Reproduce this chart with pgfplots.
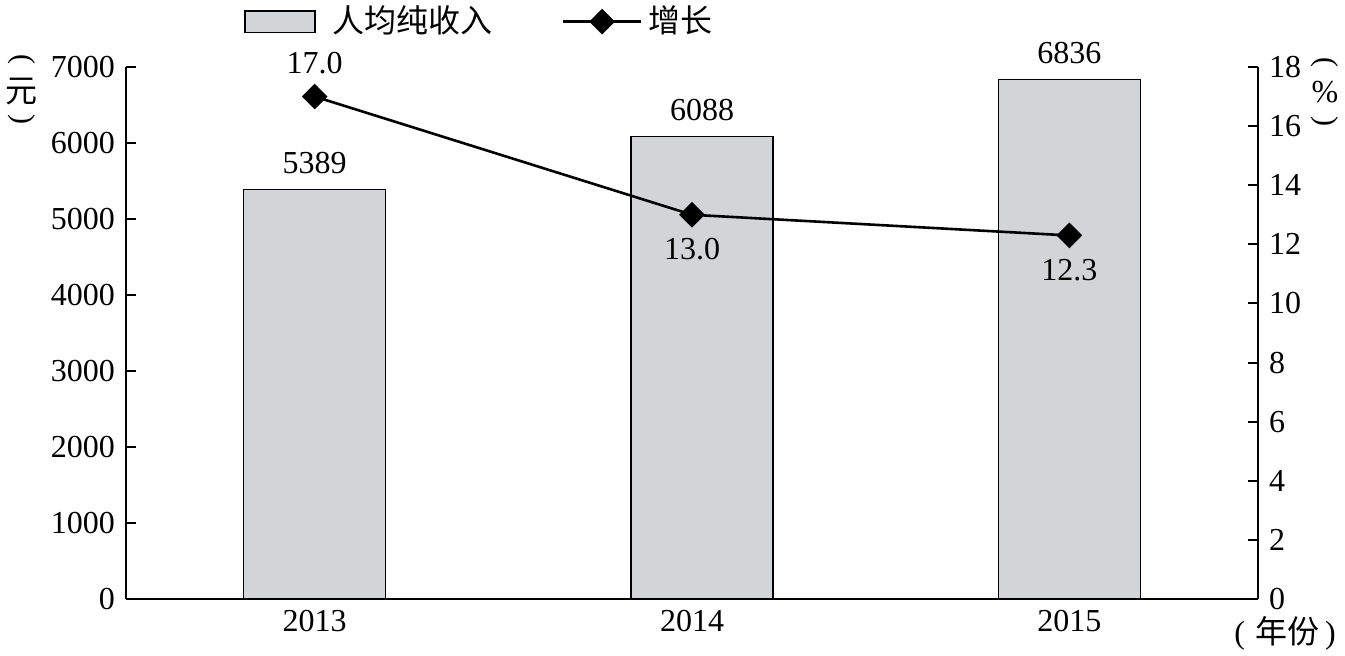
\documentclass[border=0pt]{standalone}
\usepackage{pgfplots}
\pgfplotsset{compat=1.18}
\usepackage{pgfplotstable}
\usepackage{fontspec}
\setmainfont{Liberation Serif}
\newfontfamily\cjk{Noto Sans CJK SC}
\definecolor{bargray}{RGB}{211,212,215}

\pgfplotsset{
  barlegend/.style={legend image code/.code={\draw[##1] (0cm,-0.19cm) rectangle (1.23cm,0.19cm);}},
  linelegend/.style={legend image code/.code={\draw[##1, mark repeat=2, mark phase=2] plot coordinates {(0cm,0cm) (0.68cm,0cm) (1.36cm,0cm)};}},
}

\pgfplotstableread{
x y
0 5389
1.027 6088
2 6836
}\income
\pgfplotstableread{
x y
0 17.0
1 13.0
2 12.3
}\growth
\pgfplotstableread{
x y
0 17.0
}\growthabove
\pgfplotstableread{
x y
1 13.0
2 12.3
}\growthbelow

\begin{document}
\fontsize{16}{19}\selectfont
\begin{tikzpicture}
\begin{axis}[
  name=ax,
  scale only axis, width=566pt, height=266pt,
  xmin=-0.5, xmax=2.5, ymin=0, ymax=7000,
  axis x line*=bottom, axis y line*=left,
  axis line style={line width=1.2pt},
  xtick={0,1,2}, xticklabels={2013,2014,2015},
  major x tick style={draw=none},
  extra x ticks={0.5,1.5}, extra x tick labels={},
  extra x tick style={major tick length=5pt, tick style={line width=1pt, black}, tick align=inside},
  ytick={0,1000,...,7000},
  tick align=inside, major tick length=5pt,
  y tick style={line width=1pt, black},
  /pgf/number format/1000 sep={},
  /pgf/number format/assume math mode=true,
  tick label style={font=\fontsize{16}{19}\selectfont},
  clip=false,
]
\addplot[ybar, bar width=71pt, fill=bargray, draw=black, line width=0.8pt,
  nodes near coords, nodes near coords style={font=\fontsize{16}{19}\selectfont, /pgf/number format/1000 sep={}, /pgf/number format/assume math mode=true, yshift=2pt}]
  table[x=x,y=y]{\income};
% left unit label (元), stacked vertically
\node[font=\fontsize{15}{16}\selectfont, inner sep=0pt] at ([xshift=-52pt,yshift=4pt]rel axis cs:0,1) {\rotatebox{-90}{(}};
\node[font=\cjk\fontsize{16}{17}\selectfont, inner sep=0pt] at ([xshift=-52pt,yshift=-12.5pt]rel axis cs:0,1) {元};
\node[font=\fontsize{15}{16}\selectfont, inner sep=0pt] at ([xshift=-52pt,yshift=-26pt]rel axis cs:0,1) {\rotatebox{-90}{)}};
% right unit label (%)
\node[font=\fontsize{15}{16}\selectfont, inner sep=0pt] at ([xshift=33.5pt,yshift=2.5pt]rel axis cs:1,1) {\rotatebox{-90}{(}};
\node[font=\fontsize{16}{17}\selectfont, inner sep=0pt] at ([xshift=33.5pt,yshift=-12.5pt]rel axis cs:1,1) {\%};
\node[font=\fontsize{15}{16}\selectfont, inner sep=0pt] at ([xshift=33.5pt,yshift=-27pt]rel axis cs:1,1) {\rotatebox{-90}{)}};
\node[font=\fontsize{16}{17}\selectfont, inner sep=0pt] at ([xshift=13.5pt,yshift=-17pt]rel axis cs:1,0) {(\hspace{5pt}{\cjk 年份}\hspace{3pt})};
\end{axis}
\begin{axis}[
  scale only axis, width=566pt, height=266pt,
  xmin=-0.5, xmax=2.5, ymin=0, ymax=18,
  axis x line=none, axis y line*=right,
  axis line style={line width=1.2pt},
  ytick={0,2,...,18},
  tick align=inside, major tick length=5pt,
  y tick style={line width=1pt, black},
  /pgf/number format/assume math mode=true,
  tick label style={font=\fontsize{16}{19}\selectfont},
  legend style={at={(0.099,1.131)}, anchor=north west, draw=none, fill=none,
    legend columns=2, font=\cjk\fontsize{16}{19}\selectfont,
    /tikz/column 1/.style={column sep=6pt},
    /tikz/column 2/.style={column sep=33pt},
    /tikz/column 3/.style={column sep=1pt}},
  clip=false,
]
\addlegendimage{barlegend, fill=bargray, draw=black, line width=0.8pt}
\addlegendentry{人均纯收入}
\addplot[black, line width=1.3pt, mark=square*, mark options={rotate=45}, mark size=3.9pt, linelegend]
  table[x=x,y=y]{\growth};
\addlegendentry{增长}
\addplot[draw=none, mark=none, forget plot,
  nodes near coords, /pgf/number format/fixed, /pgf/number format/fixed zerofill, /pgf/number format/precision=1,
  every node near coord/.append style={anchor=south, font=\fontsize{16}{19}\selectfont, inner sep=11pt}]
  table[x=x,y=y]{\growthabove};
\addplot[draw=none, mark=none, forget plot,
  nodes near coords, /pgf/number format/fixed, /pgf/number format/fixed zerofill, /pgf/number format/precision=1,
  every node near coord/.append style={anchor=north, font=\fontsize{16}{19}\selectfont, inner sep=11.5pt}]
  table[x=x,y=y]{\growthbelow};
\end{axis}
\pgfresetboundingbox
\path[use as bounding box] ([shift={(-63pt,-28.5pt)}]ax.south west) rectangle ([shift={(43.5pt,33.5pt)}]ax.north east);
\end{tikzpicture}
\end{document}
